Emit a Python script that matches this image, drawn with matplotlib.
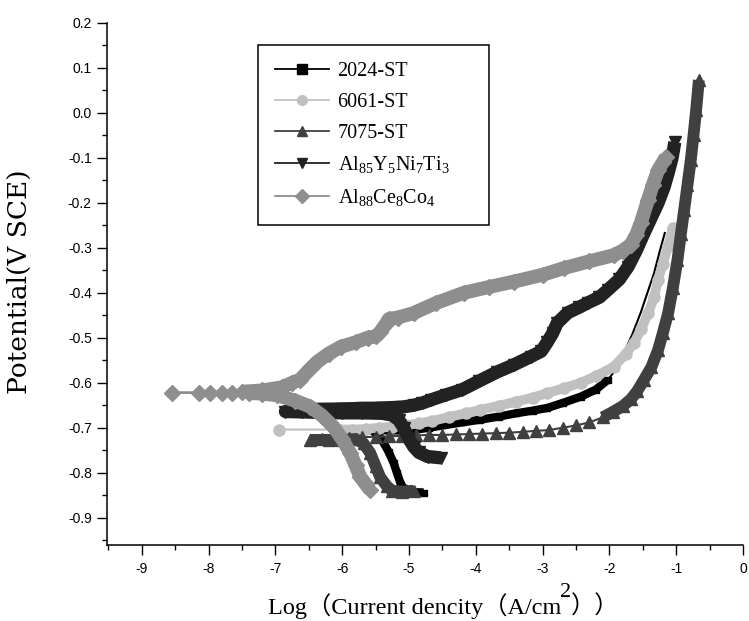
import numpy as np
import matplotlib
matplotlib.use("Agg")
import matplotlib.pyplot as plt
from matplotlib.lines import Line2D
from matplotlib import font_manager

names = {f.name for f in font_manager.fontManager.ttflist}
if 'Liberation Sans Narrow' in names:
    tick_font, tick_size = 'Liberation Sans Narrow', 11
else:
    tick_font, tick_size = 'Liberation Sans', 10

plt.rcParams['font.family'] = [tick_font]
plt.rcParams['axes.unicode_minus'] = False
plt.rcParams['mathtext.fontset'] = 'custom'
plt.rcParams['mathtext.rm'] = 'Liberation Serif'
plt.rcParams['mathtext.default'] = 'rm'

# ---- data: log(i) and potential (V SCE) ----
labels = ['2024-ST', '6061-ST', '7075-ST',
          r'Al$_{85}$Y$_{5}$Ni$_{7}$Ti$_{3}$', r'Al$_{88}$Ce$_{8}$Co$_{4}$']

x2024 = [-4.78, -4.95, -5.08, -5.13, -5.18, -5.23, -5.30, -5.38, -5.45, -5.55, -5.45, -5.3, -5.1,
         -4.93, -4.7, -4.5, -4.2, -3.93, -3.65, -3.4, -3.15, -2.93, -2.7, -2.43, -2.2, -2.02,
         -1.9, -1.78, -1.65, -1.53, -1.43, -1.33, -1.25, -1.17]
y2024 = [-0.844, -0.843, -0.835, -0.822, -0.80, -0.778, -0.755, -0.733, -0.718, -0.706, -0.705,
         -0.706, -0.706, -0.705, -0.70, -0.695, -0.688, -0.682, -0.675, -0.668, -0.662, -0.656,
         -0.645, -0.631, -0.615, -0.593, -0.57, -0.534, -0.49, -0.444, -0.40, -0.356, -0.31, -0.267]

x6061 = [-6.94, -6.03, -5.85, -5.65, -5.45, -5.25, -5.05, -4.85, -4.65, -4.4, -4.15, -3.93, -3.65,
         -3.4, -3.15, -2.93, -2.68, -2.43, -2.2, -1.93, -1.75, -1.63, -1.52, -1.42, -1.33, -1.27,
         -1.2, -1.12, -1.05]
y6061 = [-0.704, -0.704, -0.704, -0.703, -0.70, -0.698, -0.695, -0.69, -0.685, -0.676, -0.668,
         -0.66, -0.651, -0.642, -0.633, -0.623, -0.612, -0.60, -0.585, -0.564, -0.535, -0.511,
         -0.48, -0.445, -0.41, -0.371, -0.335, -0.297, -0.255]

x7075 = [-4.93, -5.1, -5.25, -5.33, -5.43, -5.5, -5.58, -5.68, -5.8, -6.0, -6.2, -6.48,
         -6.3, -6.1, -5.9, -5.7, -5.5, -5.3, -5.1, -4.9, -4.7, -4.5, -4.3, -4.1, -3.9, -3.7,
         -3.5, -3.3, -3.1, -2.9, -2.7, -2.5, -2.3, -2.1, -1.95, -1.8, -1.68, -1.58, -1.48,
         -1.37, -1.27, -1.2, -1.12, -1.05, -0.98, -0.93, -0.88, -0.83, -0.78, -0.74, -0.70, -0.66]
y7075 = [-0.84, -0.842, -0.84, -0.83, -0.81, -0.785, -0.756, -0.735, -0.725, -0.727, -0.727,
         -0.727, -0.725, -0.724, -0.722, -0.721, -0.72, -0.719, -0.718, -0.717, -0.716, -0.716,
         -0.715, -0.714, -0.713, -0.712, -0.711, -0.709, -0.707, -0.705, -0.70, -0.695, -0.688,
         -0.677, -0.665, -0.652, -0.637, -0.618, -0.593, -0.565, -0.527, -0.49, -0.445, -0.39,
         -0.327, -0.27, -0.216, -0.16, -0.104, -0.05, 0.007, 0.073]

xAl85 = [-4.52, -4.72, -4.85, -4.93, -5.0, -5.08, -5.15, -5.25, -5.4, -5.7, -6.0, -6.3, -6.6,
         -6.85, -6.6, -6.3, -6.0, -5.7, -5.4, -5.1, -4.93, -4.8, -4.67, -4.45, -4.2, -3.95,
         -3.68, -3.43, -3.18, -3.02, -2.93, -2.85, -2.78, -2.62, -2.45, -2.32, -2.15, -2.02,
         -1.85, -1.72, -1.6, -1.48, -1.37, -1.27, -1.18, -1.12, -1.06, -1.02]
yAl85 = [-0.767, -0.764, -0.755, -0.742, -0.725, -0.70, -0.683, -0.672, -0.668, -0.667, -0.667,
         -0.666, -0.665, -0.664, -0.66, -0.659, -0.658, -0.657, -0.656, -0.654, -0.65, -0.645,
         -0.638, -0.627, -0.615, -0.596, -0.576, -0.56, -0.542, -0.53, -0.51, -0.49, -0.467,
         -0.444, -0.432, -0.422, -0.41, -0.393, -0.37, -0.342, -0.307, -0.267, -0.232, -0.20,
         -0.165, -0.134, -0.10, -0.065]

xAl88 = [-5.58, -5.65, -5.73, -5.8, -5.88, -6.0, -6.13, -6.3, -6.48, -6.7, -6.97, -7.2, -7.4,
         -7.65, -7.98, -8.54, -8.15, -7.80, -7.5, -7.2, -6.9, -6.75, -6.63, -6.5, -6.37, -6.2,
         -6.02, -5.8, -5.62, -5.5, -5.43, -5.35, -5.3, -5.17, -4.93, -4.6, -4.18, -3.8, -3.43,
         -3.0, -2.68, -2.3, -1.93, -1.8, -1.68, -1.6, -1.53, -1.42, -1.35, -1.27, -1.2, -1.15]
yAl88 = [-0.838, -0.825, -0.809, -0.783, -0.756, -0.725, -0.698, -0.673, -0.653, -0.64, -0.628,
         -0.624, -0.623, -0.622, -0.622, -0.622, -0.622, -0.622, -0.62, -0.617, -0.61, -0.60,
         -0.593, -0.572, -0.553, -0.535, -0.52, -0.51, -0.50, -0.497, -0.487, -0.47, -0.458,
         -0.455, -0.445, -0.423, -0.40, -0.387, -0.375, -0.36, -0.345, -0.33, -0.316, -0.306,
         -0.293, -0.272, -0.245, -0.193, -0.16, -0.127, -0.11, -0.098]

colors = ['#000000', '#c0c0c0', '#404040', '#222222', '#8e8e8e']
markers = ['s', 'o', '^', 'v', 'D']

series = [(x2024, y2024), (x6061, y6061), (x7075, y7075), (xAl85, yAl85), (xAl88, yAl88)]
# dense stretches of each curve (index ranges) drawn as a band, with band width
bands = [([(0, 26)], 6), ([(1, 29)], 7), ([(0, 12), (33, 52)], 8.5),
         ([(0, 48)], 9.5), ([(0, 13), (18, 52)], 10)]
mark_upto = [26, None, None, None, None]
msizes = [5, 8, 8, 8, 8]

fig = plt.figure(figsize=(7.49, 6.21), dpi=100)
ax = fig.add_axes([0.1429, 0.1229, 0.849, 0.8401])

for k, (xs, ys) in enumerate(series):
    c = colors[k]
    z = 2 + k
    ax.plot(xs, ys, color=c, lw=1.5, zorder=z)
    m = mark_upto[k]
    ax.plot(xs[:m], ys[:m], ls='none', marker=markers[k], ms=msizes[k],
            mec=c, mfc=c, zorder=z)
    for (a, b) in bands[k][0]:
        ax.plot(xs[a:b], ys[a:b], color=c, lw=bands[k][1], zorder=z,
                solid_joinstyle='round', solid_capstyle='butt')

ax.set_xlim(-9.52, 0)
ax.set_ylim(-0.96, 0.2)
for s in ['top', 'right']:
    ax.spines[s].set_visible(False)
for s in ['left', 'bottom']:
    ax.spines[s].set_linewidth(1.1)

xt = np.arange(-9, 1, 1)
ax.set_xticks(xt)
ax.set_xticklabels(['%d' % v for v in xt])
ax.set_xticks(np.arange(-9.5, 0.01, 0.5), minor=True)
yt = np.round(np.arange(-0.9, 0.21, 0.1), 1)
ax.set_yticks(yt)
ax.set_yticklabels(['%.1f' % (v + 0.0) for v in yt])
ax.set_yticks(np.round(np.arange(-0.95, 0.2, 0.05), 2), minor=True)
ax.tick_params(which='major', direction='out', length=7, width=1, labelsize=tick_size)
ax.tick_params(which='minor', direction='out', length=3.5, width=1)
ax.tick_params(axis='x', pad=5.5)
ax.tick_params(axis='y', pad=4)

ax.set_ylabel('Potential(V SCE)', family='DejaVu Serif', fontsize=19)
ax.yaxis.set_label_coords(-0.118, 0.505)

# x label: "Log（Current dencity（A/cm²））" with a raised full-size 2
lab_fam = ['Liberation Serif', 'Noto Sans CJK SC']
t1 = fig.text(270 / 749, (621 - 619) / 621, 'Log（Current dencity（A/cm',
              family=lab_fam, fontsize=17.5, va='bottom', ha='left')
t2 = ax.annotate('2', xy=(1, 0), xycoords=t1, xytext=(-1, 12), textcoords='offset points',
                 family=lab_fam, fontsize=16, va='bottom', ha='left', annotation_clip=False)
t3 = ax.annotate('））', xy=(1, 0), xycoords=(t2, t1), family=lab_fam, fontsize=17.5,
                 va='bottom', ha='left', annotation_clip=False)

handles = [Line2D([], [], color=colors[k], lw=1.3, marker=markers[k], ms=7,
                  mec=colors[k], mfc=colors[k]) for k in range(5)]
leg = ax.legend(handles, labels, loc='upper left',
                bbox_to_anchor=(258 / 749, (621 - 225) / 621, 231 / 749, 180 / 621),
                bbox_transform=fig.transFigure, mode='expand',
                prop={'family': 'Liberation Serif', 'size': 14.5},
                frameon=True, fancybox=False, framealpha=1, edgecolor='black',
                handlelength=2.7, handletextpad=0.4, borderpad=0.85, labelspacing=0.58,
                borderaxespad=0)
leg.get_frame().set_linewidth(1.1)

# centre the composite x label under the axis
fig.canvas.draw()
r = fig.canvas.get_renderer()
b1 = t1.get_window_extent(r)
b3 = t3.get_window_extent(r)
w = b3.x1 - b1.x0
t1.set_x((444 - w / 2) / 749)

fig.savefig('out.png', dpi=100)
